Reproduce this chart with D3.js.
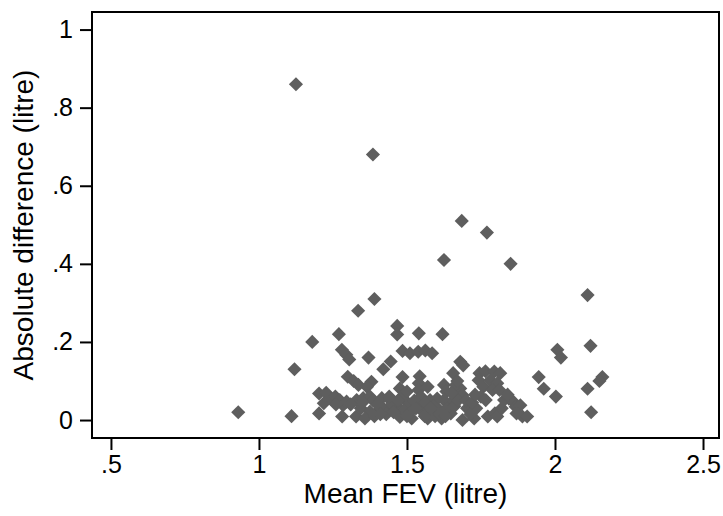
<!DOCTYPE html>
<html>
<head>
<meta charset="utf-8">
<script src="https://cdn.jsdelivr.net/npm/d3@7"></script>
<style>
  body { margin: 0; background: #fff; }
  svg { display: block; font-family: "Liberation Sans", Arial, sans-serif; }
  .axis text { font-size: 25px; fill: #000; }
  .axis line { stroke: #000; stroke-width: 2; }
  .title { font-size: 28px; fill: #000; }
</style>
</head>
<body>
<svg id="chart" width="723" height="516"></svg>
<script>
// mean FEV (litre) and absolute difference (litre), one entry per child
var meanFev = [
  0.93, 1.11, 1.12, 1.125, 1.18, 1.385, 1.39, 1.335, 1.27, 1.28,
  1.295, 1.305, 1.37, 1.42, 1.445, 1.467, 1.467, 1.54, 1.62, 1.625,
  1.685, 1.77, 1.85, 2.11, 2.12, 2.008, 2.02, 1.945, 1.962, 2.003,
  2.11, 2.122, 2.16, 2.15,
  1.485, 1.51, 1.538, 1.562, 1.585,
  1.68, 1.69, 1.656, 1.485, 1.543, 1.54, 1.30, 1.32, 1.336, 1.38,
  1.365, 1.476, 1.745, 1.765, 1.795, 1.815, 1.742, 1.758, 1.781, 1.805,
  1.789, 1.8125,
  1.203, 1.227, 1.203, 1.219, 1.242, 1.258, 1.273, 1.284, 1.281, 1.296,
  1.328, 1.33, 1.352, 1.375, 1.386, 1.415, 1.443, 1.344, 1.375, 1.406,
  1.4375, 1.469, 1.358, 1.39, 1.42, 1.476, 1.504, 1.484, 1.50, 1.516,
  1.539, 1.547, 1.539, 1.57, 1.578, 1.57, 1.617, 1.602, 1.609, 1.625,
  1.633, 1.625, 1.648, 1.664, 1.648, 1.68, 1.6875, 1.6875, 1.703, 1.727,
  1.734, 1.75, 1.766, 1.773, 1.797, 1.805, 1.82, 1.828, 1.844, 1.859,
  1.867, 1.883, 1.89, 1.906, 1.87,
  1.45, 1.49, 1.51, 1.525, 1.555, 1.56, 1.59, 1.595, 1.635, 1.66,
  1.672, 1.70, 1.715, 1.72, 1.35, 1.40, 1.43, 1.455, 1.26, 1.31,
  1.665, 1.67, 1.73, 1.84,
  1.47, 1.50, 1.53, 1.56, 1.58, 1.61, 1.63, 1.65, 1.44, 1.41
];
var absDiff = [
  0.02, 0.01, 0.13, 0.86, 0.20, 0.68, 0.31, 0.28, 0.22, 0.18,
  0.167, 0.155, 0.16, 0.13, 0.15, 0.241, 0.219, 0.222, 0.22, 0.41,
  0.51, 0.48, 0.40, 0.32, 0.19, 0.18, 0.16, 0.11, 0.08, 0.06,
  0.08, 0.02, 0.11, 0.10,
  0.177, 0.171, 0.175, 0.178, 0.171,
  0.149, 0.14, 0.12, 0.11, 0.112, 0.094, 0.111, 0.10, 0.09, 0.098,
  0.085, 0.081, 0.12, 0.125, 0.124, 0.12, 0.102, 0.085, 0.102, 0.094,
  0.077, 0.077,
  0.068, 0.07, 0.017, 0.043, 0.055, 0.06, 0.051, 0.038, 0.009, 0.047,
  0.009, 0.051, 0.056, 0.06, 0.05, 0.056, 0.051, 0.03, 0.022, 0.026,
  0.03, 0.034, 0.004, 0.01, 0.03, 0.008, 0.043, 0.06, 0.073, 0.004,
  0.077, 0.06, 0.038, 0.085, 0.051, 0.004, 0.004, 0.055, 0.026, 0.09,
  0.073, 0.051, 0.043, 0.06, 0.017, 0.081, 0.064, 0.0, 0.03, 0.004,
  0.03, 0.06, 0.051, 0.009, 0.017, 0.009, 0.03, 0.051, 0.055, 0.047,
  0.034, 0.038, 0.009, 0.009, 0.017,
  0.04, 0.025, 0.02, 0.05, 0.02, 0.045, 0.035, 0.01, 0.03, 0.035,
  0.05, 0.05, 0.015, 0.045, 0.045, 0.04, 0.015, 0.02, 0.04, 0.04,
  0.09, 0.10, 0.065, 0.065,
  0.05, 0.01, 0.03, 0.01, 0.03, 0.015, 0.01, 0.07, 0.06, 0.015
];

var xTicks = [0.5, 1, 1.5, 2, 2.5];
var xTickLabels = [".5", "1", "1.5", "2", "2.5"];
var yTicks = [0, 0.2, 0.4, 0.6, 0.8, 1];
var yTickLabels = ["0", ".2", ".4", ".6", ".8", "1"];

var plot = {left: 92, right: 719, top: 12, bottom: 438};

var svg = d3.select("#chart");

var x = d3.scaleLinear()
    .domain([0.436, 2.554])
    .range([plot.left, plot.right]);
var y = d3.scaleLinear()
    .domain([-0.046, 1.045])
    .range([plot.bottom, plot.top]);

var points = meanFev.map(function(d, i) { return {x: d, y: absDiff[i]}; });

svg.append("g")
    .selectAll("path")
    .data(points)
    .enter().append("path")
        .attr("d", d3.symbol(d3.symbolSquare, 100))
        .attr("transform", function(d) {
          return `translate(${x(d.x)}, ${y(d.y)}) rotate(45)`; })
        .attr("fill", "#5e5e5e");

// frame
svg.append("rect")
    .attr("x", plot.left)
    .attr("y", plot.top)
    .attr("width", plot.right - plot.left)
    .attr("height", plot.bottom - plot.top)
    .attr("fill", "none")
    .attr("stroke", "#000")
    .attr("stroke-width", 2);

var xAxis = d3.axisBottom(x)
    .tickValues(xTicks)
    .tickFormat(function(d, i) { return xTickLabels[i]; })
    .tickSizeInner(11)
    .tickSizeOuter(0)
    .tickPadding(5);
var yAxis = d3.axisLeft(y)
    .tickValues(yTicks)
    .tickFormat(function(d, i) { return yTickLabels[i]; })
    .tickSizeInner(11)
    .tickSizeOuter(0)
    .tickPadding(7);

svg.append("g")
    .attr("class", "x axis")
    .attr("transform", `translate(0, ${plot.bottom + 1})`)
    .call(xAxis)
    .call(function(g) { g.select(".domain").remove(); });

svg.append("g")
    .attr("class", "y axis")
    .attr("transform", `translate(${plot.left - 1}, 0)`)
    .call(yAxis)
    .call(function(g) { g.select(".domain").remove(); });

svg.selectAll(".axis text").attr("font-family", null).attr("font-size", null);

svg.append("text")
    .attr("class", "title")
    .attr("x", (plot.left + plot.right) / 2)
    .attr("y", 503)
    .style("text-anchor", "middle")
    .text("Mean FEV (litre)");

svg.append("text")
    .attr("class", "title")
    .attr("transform", `translate(33, ${(plot.top + plot.bottom) / 2}) rotate(-90)`)
    .style("text-anchor", "middle")
    .text("Absolute difference (litre)");
</script>
</body>
</html>
